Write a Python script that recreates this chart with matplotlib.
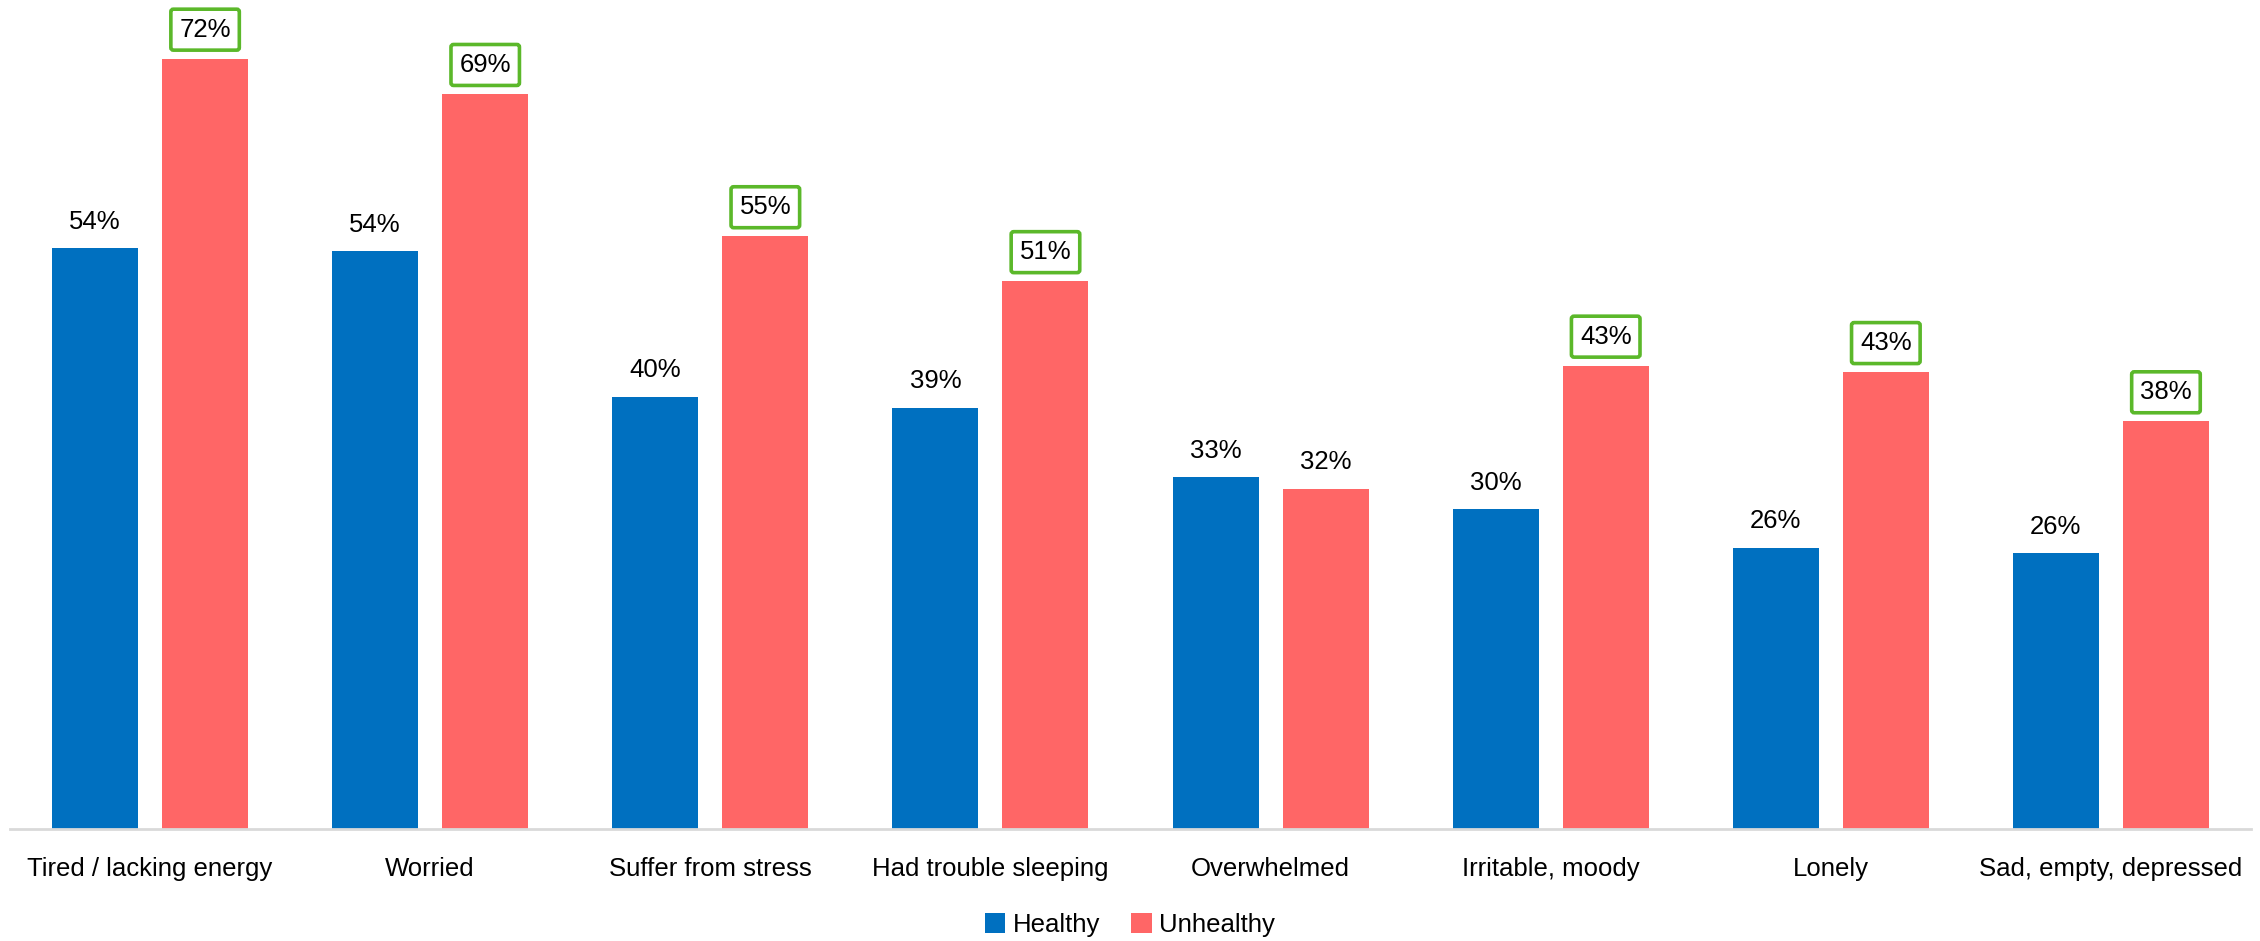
import matplotlib
matplotlib.use("Agg")
import matplotlib.pyplot as plt
import numpy as np

categories = ["Tired / lacking energy", "Worried", "Suffer from stress", "Had trouble sleeping",
              "Overwhelmed", "Irritable, moody", "Lonely", "Sad, empty, depressed"]
healthy = [54.3, 54.0, 40.4, 39.4, 32.9, 29.9, 26.3, 25.8]
unhealthy = [72.0, 68.7, 55.4, 51.2, 31.8, 43.3, 42.7, 38.1]
healthy_labels = ["54%", "54%", "40%", "39%", "33%", "30%", "26%", "26%"]
unhealthy_labels = ["72%", "69%", "55%", "51%", "32%", "43%", "43%", "38%"]
boxed = [True, True, True, True, False, True, True, True]

plt.rcParams['font.family'] = ['Liberation Sans Narrow', 'Liberation Sans', 'DejaVu Sans']

fig = plt.figure(figsize=(22.6, 9.41), dpi=100)
ax = fig.add_axes([10/2260, 112/941, 2241/2260, 829/941])

x = np.arange(len(categories))
w = 86/280
off = 55/280
ax.bar(x - off, healthy, w, color="#0070C0", label="Healthy")
ax.bar(x + off, unhealthy, w, color="#FF6666", label="Unhealthy")

ax.set_xlim(-0.5, len(categories) - 0.5)
ax.set_ylim(0, 77.5)

fs = 18.5
for i in range(len(categories)):
    ax.annotate(healthy_labels[i], (x[i] - off, healthy[i]), xytext=(0, 19), textcoords="offset points",
                ha="center", va="center", fontsize=fs, color="#000000")
    if boxed[i]:
        ax.annotate(unhealthy_labels[i], (x[i] + off, unhealthy[i]), xytext=(0, 21), textcoords="offset points",
                    ha="center", va="center", fontsize=fs, color="#000000",
                    bbox=dict(boxstyle="round,pad=0.33,rounding_size=0.1", fc="white", ec="#5BB82A", lw=2.6))
    else:
        ax.annotate(unhealthy_labels[i], (x[i] + off, unhealthy[i]), xytext=(0, 19), textcoords="offset points",
                    ha="center", va="center", fontsize=fs, color="#000000")

for s in ["top", "right", "left"]:
    ax.spines[s].set_visible(False)
ax.spines["bottom"].set_color("#D9D9D9")
ax.spines["bottom"].set_linewidth(2)
ax.set_yticks([])
ax.set_xticks(x)
ax.set_xticklabels(categories, fontsize=fs)
ax.tick_params(axis="x", length=0, pad=20)

fig.legend(loc="center", bbox_to_anchor=(0.5, 1 - 925/941), ncol=2, frameon=False, fontsize=fs,
           handlelength=0.8, handleheight=0.8, handletextpad=0.3, columnspacing=1.2)

fig.savefig("out.png", dpi=100, facecolor="white")
